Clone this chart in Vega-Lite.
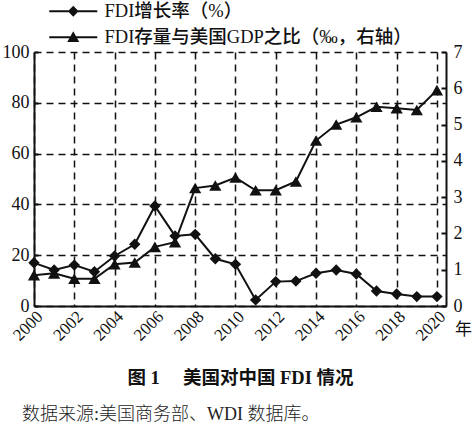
{
  "$schema": "https://vega.github.io/schema/vega-lite/v6.json",
  "width": 412,
  "height": 254,
  "padding": {"left": 2, "right": 2, "top": 2, "bottom": 2},
  "config": {
    "view": {"stroke": null},
    "font": "Liberation Serif, Noto Sans CJK SC",
    "axis": {
      "labelFont": "Liberation Serif",
      "labelFontSize": 18,
      "labelColor": "#111",
      "domainColor": "#111",
      "domainWidth": 2,
      "tickColor": "#111",
      "tickWidth": 2,
      "gridColor": "#111",
      "gridDash": [7, 5],
      "gridWidth": 1.5,
      "gridOpacity": 1
    }
  },
  "data": {
    "values": [
      {"year": 2000, "growth": 17.0, "ratio": 0.85},
      {"year": 2001, "growth": 14.2, "ratio": 0.9},
      {"year": 2002, "growth": 16.1, "ratio": 0.75},
      {"year": 2003, "growth": 13.5, "ratio": 0.75},
      {"year": 2004, "growth": 19.7, "ratio": 1.15},
      {"year": 2005, "growth": 24.3, "ratio": 1.2},
      {"year": 2006, "growth": 39.4, "ratio": 1.63},
      {"year": 2007, "growth": 27.6, "ratio": 1.76},
      {"year": 2008, "growth": 28.2, "ratio": 3.25},
      {"year": 2009, "growth": 18.6, "ratio": 3.32},
      {"year": 2010, "growth": 16.4, "ratio": 3.54},
      {"year": 2011, "growth": 2.4, "ratio": 3.19},
      {"year": 2012, "growth": 9.6, "ratio": 3.19},
      {"year": 2013, "growth": 9.8, "ratio": 3.43},
      {"year": 2014, "growth": 12.9, "ratio": 4.56},
      {"year": 2015, "growth": 14.2, "ratio": 5.0},
      {"year": 2016, "growth": 12.6, "ratio": 5.2},
      {"year": 2017, "growth": 5.9, "ratio": 5.49},
      {"year": 2018, "growth": 4.7, "ratio": 5.45},
      {"year": 2019, "growth": 3.7, "ratio": 5.4},
      {"year": 2020, "growth": 3.7, "ratio": 5.95}
    ]
  },
  "title": {
    "text": "数据来源:美国商务部、WDI 数据库。",
    "orient": "bottom",
    "anchor": "start",
    "font": "Liberation Serif, Noto Sans CJK SC",
    "fontSize": 18,
    "fontWeight": 300,
    "color": "#222",
    "dx": 20,
    "offset": 19
  },
  "encoding": {
    "x": {
      "field": "year",
      "type": "quantitative",
      "scale": {"domain": [2000, 2020.45], "nice": false, "zero": false},
      "axis": {
        "values": [2000, 2002, 2004, 2006, 2008, 2010, 2012, 2014, 2016, 2018, 2020],
        "format": "d",
        "labelAngle": -45,
        "labelFontSize": 17,
        "ticks": false,
        "grid": true,
        "title": "图 1　 美国对中国 FDI 情况",
        "titleFont": "Liberation Serif, Noto Sans CJK SC",
        "titleFontSize": 18.5,
        "titleFontWeight": "bold",
        "titleColor": "#111",
        "titlePadding": 25
      }
    }
  },
  "layer": [
    {
      "encoding": {
        "y": {
          "field": "growth",
          "type": "quantitative",
          "scale": {"domain": [0, 100], "nice": false},
          "axis": {
            "orient": "left",
            "values": [0, 20, 40, 60, 80, 100],
            "grid": true,
            "tickSize": -4,
            "labelPadding": 9,
            "title": null
          }
        }
      },
      "layer": [
        {"mark": {"type": "line", "color": "#111", "strokeWidth": 2}},
        {"mark": {"type": "point", "shape": "diamond", "filled": true, "color": "#111", "size": 130, "opacity": 1}}
      ]
    },
    {
      "encoding": {
        "y": {
          "field": "ratio",
          "type": "quantitative",
          "scale": {"domain": [0, 7], "nice": false},
          "axis": {
            "orient": "right",
            "values": [0, 1, 2, 3, 4, 5, 6, 7],
            "grid": false,
            "tickSize": -5,
            "labelPadding": 12,
            "title": "年",
            "titleAngle": 0,
            "titleFont": "Noto Sans CJK SC",
            "titleFontSize": 17,
            "titleFontWeight": "normal",
            "titleColor": "#111",
            "titleX": 17,
            "titleY": 277,
            "titleAlign": "center",
            "titleBaseline": "middle"
          }
        }
      },
      "layer": [
        {"mark": {"type": "line", "color": "#111", "strokeWidth": 2}},
        {"mark": {"type": "point", "shape": "triangle-up", "filled": true, "color": "#111", "size": 150, "opacity": 1}}
      ]
    },
    {
      "transform": [{"filter": "false"}],
      "mark": {"type": "point", "filled": true, "color": "#111", "opacity": 1},
      "encoding": {
        "shape": {
          "field": "series",
          "type": "nominal",
          "scale": {
            "domain": ["FDI增长率（%）", "FDI存量与美国GDP之比（‰，右轴）"],
            "range": [
              "M1,-0.17H9V0.17H1ZM5,-0.9L5.9,0L5,0.9L4.1,0Z",
              "M1,-0.17H9V0.17H1ZM5,-1L6,0.8L4,0.8Z"
            ]
          },
          "legend": {
            "title": null,
            "orient": "top",
            "direction": "vertical",
            "symbolSize": 144,
            "symbolStrokeWidth": 0,
            "symbolFillColor": "#111",
            "labelFont": "Liberation Serif, Noto Sans CJK SC",
            "labelFontSize": 18.5,
            "labelFontWeight": 500,
            "labelColor": "#111",
            "labelOffset": 52,
            "labelLimit": 400,
            "rowPadding": 7,
            "padding": 0,
            "offset": 5
          }
        }
      }
    }
  ],
  "resolve": {"scale": {"y": "independent"}}
}
